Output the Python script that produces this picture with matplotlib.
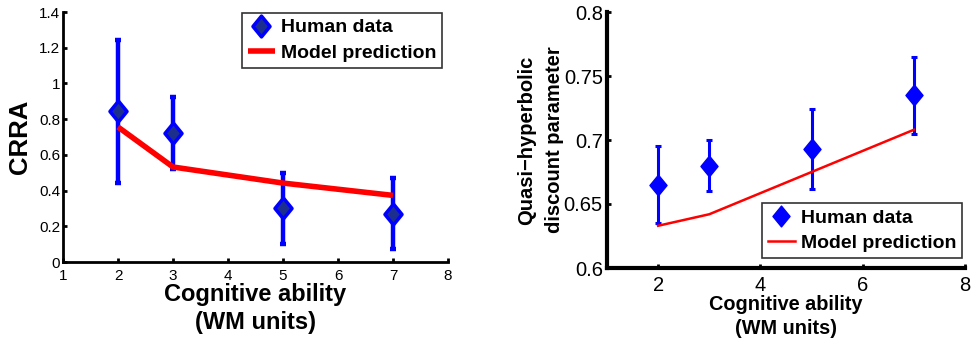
import matplotlib
matplotlib.use("Agg")
import matplotlib.pyplot as plt
from matplotlib.path import Path

plt.rcParams['font.family'] = ['Liberation Sans', 'DejaVu Sans']

# Left panel data (CRRA)
wm_units = [2, 3, 5, 7]
crra_human = [0.844, 0.722, 0.300, 0.271]
crra_err = [0.40, 0.20, 0.20, 0.20]
crra_model = [0.756, 0.532, 0.442, 0.373]

# Right panel data (quasi-hyperbolic discount parameter)
qh_human = [0.665, 0.680, 0.693, 0.735]
qh_err = [0.030, 0.020, 0.031, 0.030]
qh_model = [0.633, 0.642, 0.675, 0.708]

left_xticks = [1, 2, 3, 4, 5, 6, 7, 8]
left_yticks = [0, 0.2, 0.4, 0.6, 0.8, 1.0, 1.2, 1.4]
left_yticklabels = ['0', '0.2', '0.4', '0.6', '0.8', '1', '1.2', '1.4']
right_xticks = [2, 4, 6, 8]
right_yticks = [0.6, 0.65, 0.7, 0.75, 0.8]
right_yticklabels = ['0.6', '0.65', '0.7', '0.75', '0.8']

diamond = Path([(0, 1), (0.82, 0), (0, -1), (-0.82, 0), (0, 1)],
               [Path.MOVETO, Path.LINETO, Path.LINETO, Path.LINETO, Path.CLOSEPOLY])

fig = plt.figure(figsize=(9.71, 3.43), dpi=100)

# ---------- Left panel ----------
ax1 = fig.add_axes([63/971, 1-262/343, (448-63)/971, (262-12)/343])
ax1.errorbar(wm_units, crra_human, yerr=crra_err, fmt='none', ecolor='#0000ff',
             elinewidth=3.2, capsize=2.5, capthick=3.2, zorder=2)
ax1.plot(wm_units, crra_model, color='#ff0000', lw=4, zorder=3,
         solid_capstyle='butt', label='Model prediction')
ax1.plot(wm_units, crra_human, linestyle='none', marker=diamond, markersize=15,
         markerfacecolor='#1c2f8c', markeredgecolor='#0000ff', markeredgewidth=2.5,
         zorder=4, label='Human data')
ax1.set_xlim(1, 8)
ax1.set_ylim(0, 1.4)
ax1.set_xticks(left_xticks)
ax1.set_yticks(left_yticks)
ax1.set_yticklabels(left_yticklabels)
for s in ['top', 'right']:
    ax1.spines[s].set_visible(False)
for s in ['left', 'bottom']:
    ax1.spines[s].set_linewidth(2)
ax1.tick_params(direction='in', length=3, width=2, labelsize=11)
ax1.tick_params(axis='x', pad=5)
ax1.tick_params(axis='y', pad=2)
ax1.set_ylabel('CRRA', fontsize=18.5, fontweight='bold', labelpad=5)
ax1.set_xlabel('Cognitive ability\n(WM units)', fontsize=17, fontweight='bold',
               labelpad=0, linespacing=1.3)
h, l = ax1.get_legend_handles_labels()
leg1 = ax1.legend([h[1], h[0]], [l[1], l[0]], loc='upper right',
                  bbox_to_anchor=((442-63)/385, 1.0 - 1/250),
                  prop={'weight': 'bold', 'size': 14}, frameon=True, fancybox=False,
                  edgecolor='black', borderpad=0.3, handlelength=1.4,
                  handletextpad=0.3, labelspacing=0.4, borderaxespad=0.0)
leg1.get_frame().set_linewidth(1.2)

# ---------- Right panel ----------
ax2 = fig.add_axes([607/971, 1-268/343, (965-607)/971, (268-12)/343])
ax2.errorbar(wm_units, qh_human, yerr=qh_err, fmt='none', ecolor='#0000ff',
             elinewidth=2.2, capsize=2.5, capthick=2.2, zorder=2)
ax2.plot(wm_units, qh_model, color='#ff0000', lw=1.8, zorder=3,
         label='Model prediction')
ax2.plot(wm_units, qh_human, linestyle='none', marker=diamond, markersize=15,
         markerfacecolor='#0000ff', markeredgecolor='#0000ff', markeredgewidth=1,
         zorder=4, label='Human data')
ax2.set_xlim(1, 8)
ax2.set_ylim(0.6, 0.8)
ax2.set_xticks(right_xticks)
ax2.set_yticks(right_yticks)
ax2.set_yticklabels(right_yticklabels)
for s in ['top', 'right']:
    ax2.spines[s].set_visible(False)
for s in ['left', 'bottom']:
    ax2.spines[s].set_linewidth(3)
ax2.tick_params(direction='in', length=3, width=2, labelsize=14.5)
ax2.tick_params(axis='x', pad=6)
ax2.tick_params(axis='y', pad=3)
ax2.set_ylabel('Quasi\u2212hyperbolic\ndiscount parameter', fontsize=14.5,
               fontweight='bold', labelpad=0, linespacing=1.55)
ax2.set_xlabel('Cognitive ability\n(WM units)', fontsize=14.3, fontweight='bold',
               labelpad=0, linespacing=1.3)
h, l = ax2.get_legend_handles_labels()
leg2 = ax2.legend([h[1], h[0]], [l[1], l[0]], loc='lower right',
                  bbox_to_anchor=((962-607)/358, (268-258)/256),
                  prop={'weight': 'bold', 'size': 14}, frameon=True, fancybox=False,
                  edgecolor='black', borderpad=0.3, handlelength=1.4,
                  handletextpad=0.3, labelspacing=0.4, borderaxespad=0.0)
leg2.get_frame().set_linewidth(1.2)

fig.savefig('out.png', dpi=100)
